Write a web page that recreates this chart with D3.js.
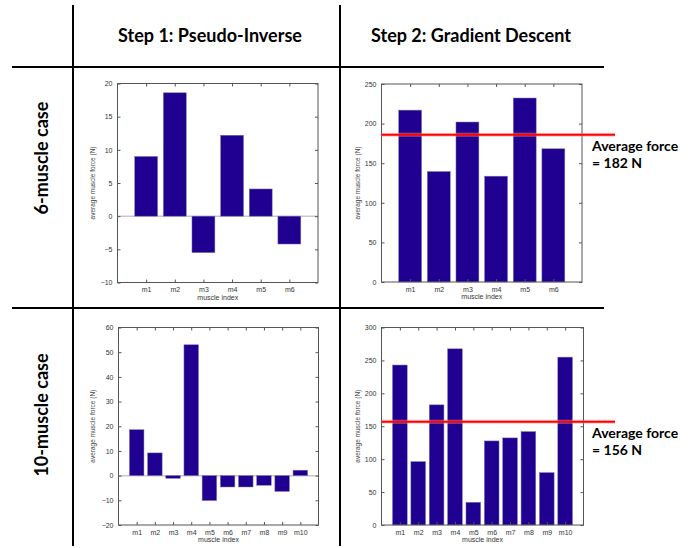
<!DOCTYPE html>
<html>
<head>
<meta charset="utf-8">
<script src="https://cdn.jsdelivr.net/npm/d3@7/dist/d3.min.js"></script>
<style>
  body { margin: 0; background: #fff; }
  .hdr { font-family: Lato, "Open Sans", sans-serif; font-weight: bold; fill: #000; }
  .tick text { font-family: "Liberation Sans", Arial, sans-serif; font-size: 7px; fill: #333; }
  .tick line { stroke: #555; }
</style>
</head>
<body>
<div id="chart"></div>
<script>
// categories
var muscles6 = ["m1", "m2", "m3", "m4", "m5", "m6"];
var muscles10 = ["m1", "m2", "m3", "m4", "m5", "m6", "m7", "m8", "m9", "m10"];

// average muscle force (N)
var pinv6 = [9.0, 18.6, -5.5, 12.2, 4.1, -4.2];
var grad6 = [217, 139.5, 202, 133.6, 232.3, 168.2];
var pinv10 = [18.6, 9.2, -1.1, 53.0, -10.1, -4.6, -4.6, -3.9, -6.4, 2.2];
var grad10 = [243, 96.3, 182.5, 267.6, 34.5, 127.7, 132.3, 141.9, 79.6, 255];

// red average lines (where drawn) and their labels
var avgLine6 = 186, avgLine10 = 157;
var avgLabel6 = "= 182 N", avgLabel10 = "= 156 N";

// y tick labels
var ticksPinv6 = [-10, -5, 0, 5, 10, 15, 20];
var ticksGrad6 = [0, 50, 100, 150, 200, 250];
var ticksPinv10 = [-20, -10, 0, 10, 20, 30, 40, 50, 60];
var ticksGrad10 = [0, 50, 100, 150, 200, 250, 300];

var colHeaders = ["Step 1: Pseudo-Inverse", "Step 2: Gradient Descent"];
var rowHeaders = ["6-muscle case", "10-muscle case"];

var W = 700, H = 548;
var svg = d3.select("#chart").append("svg")
  .attr("width", W)
  .attr("height", H);

// table grid
var grid = svg.append("g").attr("stroke", "#000").attr("stroke-width", 2);
grid.append("line").attr("x1", 73).attr("x2", 73).attr("y1", 5).attr("y2", 546);
grid.append("line").attr("x1", 340).attr("x2", 340).attr("y1", 5).attr("y2", 546);
grid.append("line").attr("x1", 12).attr("x2", 604).attr("y1", 67).attr("y2", 67);
grid.append("line").attr("x1", 12).attr("x2", 604).attr("y1", 308).attr("y2", 308);

// headers
svg.selectAll(".colhdr").data(colHeaders).enter().append("text")
  .attr("class", "hdr")
  .attr("x", function(d, i) { return i == 0 ? 210 : 471; })
  .attr("y", 42)
  .attr("text-anchor", "middle")
  .style("font-size", "18px")
  .text(function(d) { return d; });

svg.selectAll(".rowhdr").data(rowHeaders).enter().append("text")
  .attr("class", "hdr")
  .attr("text-anchor", "middle")
  .attr("transform", function(d, i) {
    return "translate(48," + (i == 0 ? 158 : 415) + ") rotate(-90)";
  })
  .style("font-size", "18px")
  .text(function(d) { return d; });

function drawPanel(p) {
  var g = svg.append("g").attr("transform", "translate(" + p.left + "," + p.top + ")");

  var x = d3.scaleLinear().domain([0, p.cats.length + 1]).range([0, p.w]);
  var y = d3.scaleLinear().domain(p.domain).range([p.h, 0]);
  var bw = 0.8 * (x(1) - x(0));

  g.append("rect")
    .attr("width", p.w).attr("height", p.h)
    .attr("fill", "#fff");

  // baseline at zero
  if (p.domain[0] < 0) {
    g.append("line")
      .attr("x1", 0).attr("x2", p.w)
      .attr("y1", y(0)).attr("y2", y(0))
      .attr("stroke", "#c8c8c8")
      .attr("stroke-width", 1.5);
  }

  g.selectAll(".bar").data(p.values).enter().append("rect")
    .attr("x", function(d, i) { return x(i + 1) - bw / 2; })
    .attr("y", function(d) { return y(Math.max(0, d)); })
    .attr("width", bw)
    .attr("height", function(d) { return Math.abs(y(d) - y(0)); })
    .attr("fill", "#1f0090")
    .attr("stroke", "#7d78aa")
    .attr("stroke-width", 0.5);

  var tickIdx = p.cats.map(function(d, i) { return i + 1; });

  g.append("g")
    .call(d3.axisLeft(y).tickValues(p.ticks).tickSizeInner(-3).tickSizeOuter(0).tickPadding(5))
    .call(function(a) { a.select(".domain").remove(); });
  g.append("g")
    .attr("transform", "translate(" + p.w + ",0)")
    .call(d3.axisRight(y).tickValues(p.ticks).tickSizeInner(-3).tickSizeOuter(0).tickFormat(""))
    .call(function(a) { a.select(".domain").remove(); });
  g.append("g")
    .attr("transform", "translate(0," + p.h + ")")
    .call(d3.axisBottom(x).tickValues(tickIdx).tickSizeInner(-3).tickSizeOuter(0).tickPadding(5)
      .tickFormat(function(d) { return p.cats[d - 1]; }))
    .call(function(a) { a.select(".domain").remove(); });
  g.append("g")
    .call(d3.axisTop(x).tickValues(tickIdx).tickSizeInner(-3).tickSizeOuter(0).tickFormat(""))
    .call(function(a) { a.select(".domain").remove(); });

  g.append("rect")
    .attr("width", p.w).attr("height", p.h)
    .attr("fill", "none")
    .attr("stroke", "#555")
    .attr("stroke-width", 1);

  g.append("text")
    .attr("transform", "translate(" + p.ylabX + "," + (p.h / 2) + ") rotate(-90)")
    .attr("text-anchor", "middle")
    .style("font-family", "Liberation Sans, Arial, sans-serif")
    .style("font-size", "6.5px")
    .attr("fill", "#444")
    .text("average muscle force (N)");

  g.append("text")
    .attr("x", p.w / 2)
    .attr("y", p.h + 17)
    .attr("text-anchor", "middle")
    .style("font-family", "Liberation Sans, Arial, sans-serif")
    .style("font-size", "7px")
    .attr("fill", "#333")
    .text("muscle index");

  if (p.avg != null) {
    var ay = y(p.avg);
    g.append("line")
      .attr("x1", 0).attr("x2", 615 - p.left)
      .attr("y1", ay).attr("y2", ay)
      .attr("stroke", "#ff9a9a")
      .attr("stroke-width", 4)
      .attr("opacity", 0.5);
    g.append("line")
      .attr("x1", 0).attr("x2", 615 - p.left)
      .attr("y1", ay).attr("y2", ay)
      .attr("stroke", "#f00")
      .attr("stroke-width", 2);
    g.append("text")
      .attr("class", "hdr")
      .attr("x", 592 - p.left)
      .attr("y", ay + 16)
      .style("font-size", "14px")
      .text("Average force");
    g.append("text")
      .attr("class", "hdr")
      .attr("x", 592 - p.left)
      .attr("y", ay + 33)
      .style("font-size", "14px")
      .text(p.avgLabel);
  }
}

drawPanel({left: 117.5, top: 83.5, w: 200.5, h: 199, cats: muscles6, values: pinv6,
  domain: [-10, 20], ticks: ticksPinv6, ylabX: -23});
drawPanel({left: 381.5, top: 84, w: 200.5, h: 198, cats: muscles6, values: grad6,
  domain: [0, 250], ticks: ticksGrad6, ylabX: -22, avg: avgLine6, avgLabel: avgLabel6});
drawPanel({left: 118.5, top: 327.5, w: 200, h: 197.5, cats: muscles10, values: pinv10,
  domain: [-20, 60], ticks: ticksPinv10, ylabX: -24});
drawPanel({left: 381.5, top: 327.5, w: 202, h: 197.5, cats: muscles10, values: grad10,
  domain: [0, 300], ticks: ticksGrad10, ylabX: -22, avg: avgLine10, avgLabel: avgLabel10});
</script>
</body>
</html>
